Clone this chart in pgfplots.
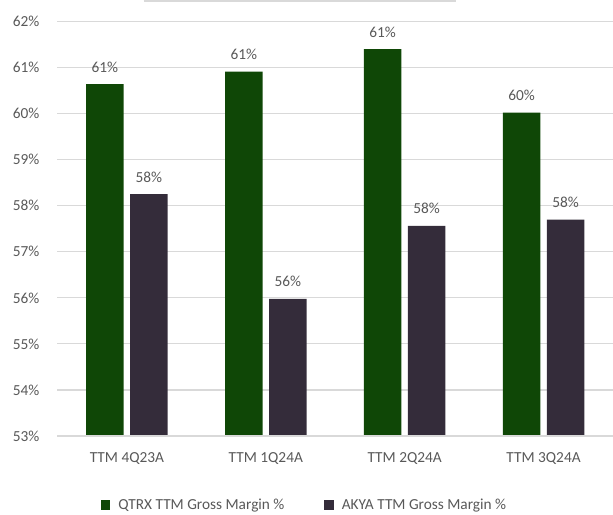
\documentclass[border=0pt]{standalone}
\usepackage{pgfplots}
\pgfplotsset{compat=1.18}
\usepackage{fontspec}
\setmainfont{Carlito}

\definecolor{qgreen}{HTML}{0F4706}
\definecolor{akya}{HTML}{342C3A}
\definecolor{txt}{HTML}{595959}
\definecolor{gridc}{HTML}{D9D9D9}

\begin{document}
\begin{tikzpicture}
% frame of the 613x514 picture, 1px = 0.75pt
\path[use as bounding box] (-43.125pt,-58.5pt) rectangle (416.625pt,327pt);
\begin{axis}[
    scale only axis,
    width=416.625pt, height=310.875pt,
    ybar, bar width=28.1pt,
    ymin=53, ymax=62, ytick={53,54,...,62},
    xmin=-0.5, xmax=3.5,
    xtick={0,1,2,3},
    xticklabels={TTM 4Q23A, TTM 1Q24A, TTM 2Q24A, TTM 3Q24A},
    yticklabel={\pgfmathprintnumber[fixed,precision=0]{\tick}\%},
    /pgf/number format/assume math mode=true,
    major tick length=0pt,
    axis line style={draw=none},
    ymajorgrids, xmajorgrids=false,
    y grid style={gridc, line width=0.9pt},
    tick label style={font=\fontsize{11.5}{13}\selectfont, text=txt},
    yticklabel style={xshift=-10pt},
    xticklabel style={anchor=base, yshift=-19.5pt},
    nodes near coords={\pgfmathprintnumber[fixed,precision=0]{\pgfplotspointmeta}\%},
    every node near coord/.append style={font=\fontsize{11.5}{13}\selectfont,
        text=txt, anchor=base, yshift=9pt},
    legend style={at={(0.4455,-0.1665)}, anchor=center, draw=none,
        font=\fontsize{11.5}{13}\selectfont, text=txt,
        legend columns=2, /tikz/every even column/.append style={column sep=28pt}},
    legend image code/.code={\fill[#1] (0pt,-3.5pt) rectangle (7pt,3.5pt);},
]
\addplot+[draw=none, fill=qgreen, bar shift=-16.5pt] coordinates {
    (0,60.64) (1,60.91) (2,61.40) (3,60.02)};
\addplot+[draw=none, fill=akya, bar shift=16.5pt] coordinates {
    (0,58.25) (1,55.98) (2,57.56) (3,57.70)};
\addlegendentry{\hspace{4pt}QTRX TTM Gross Margin \%}
\addlegendentry{\hspace{4pt}AKYA TTM Gross Margin \%}
\draw[gridc, line width=0.9pt] (rel axis cs:0,0) -- (rel axis cs:1,0);
\end{axis}
\draw[gridc, line width=1.2pt] (64.5pt,326.25pt) -- (298.5pt,326.25pt);
\end{tikzpicture}
\end{document}
